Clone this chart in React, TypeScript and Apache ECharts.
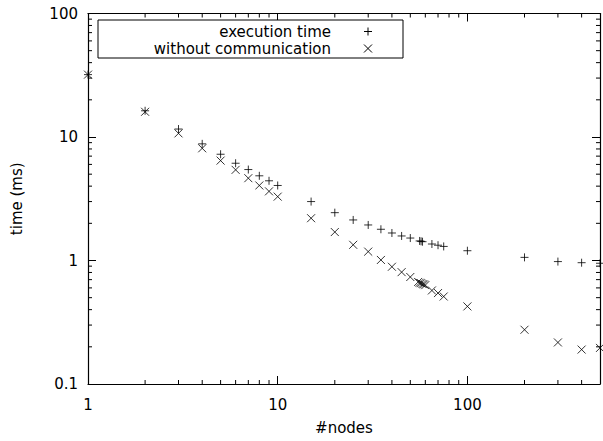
import React, { useEffect, useRef } from "react";
import * as echarts from "echarts";

// Data
const execNodes = [1, 2, 3, 4, 5, 6, 7, 8, 9, 10, 15, 20, 25, 30, 35, 40, 45, 50, 56, 57, 58, 65, 70, 75, 100, 200, 300, 400, 500];
const execTime = [32, 16.3, 11.6, 8.8, 7.25, 6.13, 5.45, 4.85, 4.42, 4.05, 3.0, 2.44, 2.13, 1.94, 1.79, 1.67, 1.58, 1.52, 1.44, 1.43, 1.42, 1.36, 1.33, 1.3, 1.2, 1.06, 0.98, 0.96, 0.95];
const commNodes = [1, 2, 3, 4, 5, 6, 7, 8, 9, 10, 15, 20, 25, 30, 35, 40, 45, 50, 55, 56, 57, 58, 59, 60, 65, 70, 75, 100, 200, 300, 400, 500];
const commTime = [32, 16.0, 10.7, 8.1, 6.44, 5.42, 4.64, 4.05, 3.63, 3.29, 2.2, 1.7, 1.34, 1.18, 1.01, 0.89, 0.805, 0.735, 0.67, 0.66, 0.655, 0.645, 0.64, 0.632, 0.572, 0.545, 0.511, 0.425, 0.275, 0.217, 0.19, 0.196];

const legendLabels = ["execution time", "without communication"];
const xAxisName = "#nodes";
const yAxisName = "time (ms)";

const X_MIN = 1;
const X_MAX = 500;
const Y_MIN = 0.1;
const Y_MAX = 100;

const xMinorTicks = [2, 3, 4, 5, 6, 7, 8, 9, 20, 30, 40, 50, 60, 70, 80, 90, 200, 300, 400];
const yMinorTicks = [0.2, 0.3, 0.4, 0.5, 0.6, 0.7, 0.8, 0.9, 2, 3, 4, 5, 6, 7, 8, 9, 20, 30, 40, 50, 60, 70, 80, 90];

const FONT = '"DejaVu Sans", sans-serif';
const PLUS_PATH = "path://M4,0L4,8M0,4L8,4";
const CROSS_PATH = "path://M0,0L8,8M0,8L8,0";

const isPow10 = (v: number) => {
  const l = Math.log10(v);
  return Math.abs(l - Math.round(l)) < 1e-6;
};

export default function App() {
  const ref = useRef<HTMLDivElement>(null);

  useEffect(() => {
    if (!ref.current) return;
    const chart = echarts.init(ref.current, undefined, { renderer: "svg" });

    const axisCommon = {
      type: "log" as const,
      logBase: 10,
      axisLine: { show: true, lineStyle: { color: "#000", width: 1.2 } },
      axisTick: { show: true, inside: true, length: 8, lineStyle: { color: "#000", width: 1 } },
      splitLine: { show: false },
      minorTick: { show: false },
    };

    const minorLine = (x1: number, y1: number, x2: number, y2: number) => ({
      type: "line",
      shape: { x1, y1, x2, y2 },
      style: { stroke: "#000", lineWidth: 1 },
    });

    chart.setOption({
      animation: false,
      backgroundColor: "#fff",
      textStyle: { fontFamily: FONT },
      grid: { left: 88, right: -1, top: 13.5, bottom: 57, containLabel: false },
      xAxis: [
        {
          ...axisCommon,
          position: "bottom",
          min: X_MIN,
          max: X_MAX,
          name: xAxisName,
          nameLocation: "middle",
          nameGap: 36,
          nameTextStyle: { color: "#000", fontSize: 15, fontFamily: FONT },
          axisLabel: {
            color: "#000",
            fontSize: 15,
            fontFamily: FONT,
            margin: 13,
            formatter: (v: number) => (isPow10(v) ? String(v) : ""),
          },
        },
        {
          ...axisCommon,
          position: "top",
          min: X_MIN,
          max: X_MAX,
          axisLabel: { show: false },
        },
      ],
      yAxis: [
        {
          ...axisCommon,
          position: "left",
          min: Y_MIN,
          max: Y_MAX,
          name: yAxisName,
          nameLocation: "middle",
          nameGap: 64,
          nameRotate: 90,
          nameTextStyle: { color: "#000", fontSize: 15, fontFamily: FONT },
          axisLabel: {
            color: "#000",
            fontSize: 15,
            fontFamily: FONT,
            margin: 10,
            formatter: (v: number) => (isPow10(v) ? String(v) : ""),
          },
        },
        {
          ...axisCommon,
          position: "right",
          min: Y_MIN,
          max: Y_MAX,
          axisLabel: { show: false },
        },
      ],
      series: [
        {
          type: "scatter",
          name: legendLabels[0],
          xAxisIndex: 0,
          yAxisIndex: 0,
          clip: false,
          symbol: PLUS_PATH,
          symbolSize: 8,
          itemStyle: { color: "rgba(0,0,0,0)", borderColor: "#000", borderWidth: 1 },
          data: execNodes.map((n, i) => [n, execTime[i]]),
        },
        {
          type: "scatter",
          name: legendLabels[1],
          xAxisIndex: 0,
          yAxisIndex: 0,
          clip: false,
          symbol: CROSS_PATH,
          symbolSize: 8,
          itemStyle: { color: "rgba(0,0,0,0)", borderColor: "#000", borderWidth: 1 },
          data: commNodes.map((n, i) => [n, commTime[i]]),
        },
        {
          type: "custom",
          xAxisIndex: 0,
          yAxisIndex: 0,
          clip: false,
          silent: true,
          data: xMinorTicks.map((v) => [v, Y_MIN]),
          renderItem: (_p: any, api: any) => {
            const v = api.value(0);
            const b = api.coord([v, Y_MIN]);
            const t = api.coord([v, Y_MAX]);
            return {
              type: "group",
              children: [minorLine(b[0], b[1], b[0], b[1] - 4), minorLine(t[0], t[1], t[0], t[1] + 4)],
            };
          },
        },
        {
          type: "custom",
          xAxisIndex: 0,
          yAxisIndex: 0,
          clip: false,
          silent: true,
          data: yMinorTicks.map((v) => [X_MIN, v]),
          renderItem: (_p: any, api: any) => {
            const v = api.value(1);
            const l = api.coord([X_MIN, v]);
            const r = api.coord([X_MAX, v]);
            return {
              type: "group",
              children: [minorLine(l[0], l[1], l[0] + 4, l[1]), minorLine(r[0], r[1], r[0] - 4, r[1])],
            };
          },
        },
      ],
      graphic: [
        {
          type: "rect",
          shape: { x: 98, y: 20, width: 305, height: 38 },
          style: { fill: "#fff", stroke: "#000", lineWidth: 1 },
          z: 10,
        },
        {
          type: "text",
          z: 11,
          style: { text: legendLabels[0], x: 331, y: 31.5, align: "right", verticalAlign: "middle", fill: "#000", font: `15px ${FONT}` },
        },
        {
          type: "text",
          z: 11,
          style: { text: legendLabels[1], x: 331, y: 48.5, align: "right", verticalAlign: "middle", fill: "#000", font: `15px ${FONT}` },
        },
        { type: "line", z: 11, shape: { x1: 368, y1: 27.5, x2: 368, y2: 35.5 }, style: { stroke: "#000", lineWidth: 1 } },
        { type: "line", z: 11, shape: { x1: 364, y1: 31.5, x2: 372, y2: 31.5 }, style: { stroke: "#000", lineWidth: 1 } },
        { type: "line", z: 11, shape: { x1: 364, y1: 44.5, x2: 372, y2: 52.5 }, style: { stroke: "#000", lineWidth: 1 } },
        { type: "line", z: 11, shape: { x1: 364, y1: 52.5, x2: 372, y2: 44.5 }, style: { stroke: "#000", lineWidth: 1 } },
      ],
    });

    return () => chart.dispose();
  }, []);

  return <div ref={ref} style={{ position: "fixed", left: 0, top: 0, width: 603, height: 441 }} />;
}
